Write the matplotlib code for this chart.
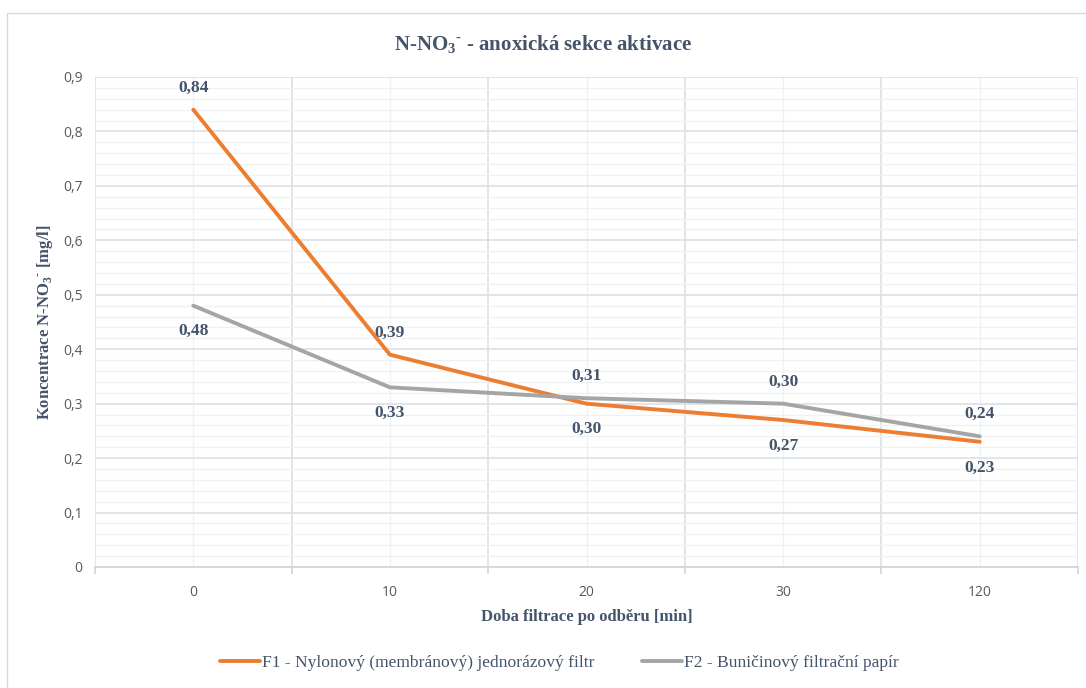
import numpy as np
import matplotlib
matplotlib.use("Agg")
import matplotlib.pyplot as plt
from matplotlib.ticker import MultipleLocator, FixedLocator, NullFormatter
from matplotlib.patches import Rectangle

# data
categories = ["0", "10", "20", "30", "120"]
f1_values = [0.84, 0.39, 0.30, 0.27, 0.23]
f2_values = [0.48, 0.33, 0.31, 0.30, 0.24]
f1_label_above = [True, True, False, False, False]
f2_label_above = [False, False, True, True, True]
f1_name = "F1 - Nylonový (membránový) jednorázový filtr"
f2_name = "F2 - Buničinový filtrační papír"

plt.rcParams["mathtext.fontset"] = "custom"
plt.rcParams["mathtext.rm"] = "Liberation Serif"
plt.rcParams["mathtext.bf"] = "Liberation Serif:bold"

serif = "Liberation Serif"
text_col = "#44546A"
tick_col = "#595959"
orange = "#ED7D31"
gray = "#A5A5A5"
no3 = r"N-NO$_{\mathbf{3}}{}^{\mathbf{\text{-}}}$"

fig = plt.figure(figsize=(10.86, 6.88), dpi=100)
fig.patches.append(Rectangle((7 / 1086, -0.01), 1.02, 1 - 13 / 688 + 0.01,
                             transform=fig.transFigure, fill=False,
                             edgecolor="#D9D9D9", linewidth=1))
ax = fig.add_axes([95 / 1086, 1 - 567 / 688, (1078 - 95) / 1086, (567 - 77) / 688])

x = np.arange(len(categories))

# grid: major lines between categories, minor lines at category centres
ax.set_xlim(-0.5, len(categories) - 0.5)
ax.set_ylim(0, 0.9)
ax.yaxis.set_major_locator(MultipleLocator(0.1))
ax.yaxis.set_minor_locator(MultipleLocator(0.02))
ax.xaxis.set_major_locator(FixedLocator(np.arange(-0.5, len(categories))))
ax.xaxis.set_minor_locator(FixedLocator(x))
ax.xaxis.set_major_formatter(NullFormatter())
ax.grid(which="major", color="#DCE0E6", linewidth=1.2)
ax.grid(which="minor", color="#EFF1F4", linewidth=1.0)
ax.set_axisbelow(True)
for s in ["top", "right", "left"]:
    ax.spines[s].set_visible(False)
ax.spines["bottom"].set_color("#D0D4DA")
ax.spines["bottom"].set_linewidth(1.2)
ax.tick_params(axis="x", which="major", length=5, color="#D0D4DA", width=1.2)
ax.tick_params(axis="x", which="minor", length=0, pad=13)
ax.tick_params(axis="y", which="both", length=0, pad=9)
ax.set_xticks(x, categories, minor=True)
ax.set_yticklabels([f"{v:.1f}".replace(".", ",") if v > 0 else "0"
                    for v in ax.get_yticks()])
for lab in ax.get_xticklabels(minor=True) + ax.get_yticklabels():
    lab.set_fontfamily("Open Sans")
    lab.set_fontsize(10)
    lab.set_color(tick_col)

# lines
ax.plot(x, f1_values, color=orange, linewidth=2.8, label=f1_name, solid_capstyle="round")
ax.plot(x, f2_values, color=gray, linewidth=2.8, label=f2_name, solid_capstyle="round")

# data labels
for vals, above in [(f1_values, f1_label_above), (f2_values, f2_label_above)]:
    for xi, v, up in zip(x, vals, above):
        ax.annotate(f"{v:.2f}".replace(".", ","), (xi, v),
                    xytext=(0, 16 if up else -18.5), textcoords="offset points",
                    ha="center", va="center", fontfamily=serif,
                    fontweight="bold", fontsize=12.5, color=text_col)

fig.text(0.5, 1 - 45 / 688, no3 + " - anoxická sekce aktivace",
         ha="center", va="center", fontfamily=serif, fontweight="bold",
         fontsize=15, color=text_col)
ax.set_ylabel("Koncentrace " + no3 + " [mg/l]",
              fontfamily=serif, fontweight="bold", fontsize=12, color=text_col)
ax.yaxis.set_label_coords((45 - 95) / 983, 0.5)
ax.yaxis.label.set_va("center")
ax.set_xlabel("Doba filtrace po odběru [min]",
              fontfamily=serif, fontweight="bold", fontsize=12, color=text_col)
ax.xaxis.set_label_coords(0.5, (567 - 617) / 490)
ax.xaxis.label.set_va("center")

leg = fig.legend(loc="center", bbox_to_anchor=(559 / 1086, 1 - 663 / 688), ncol=2,
                 frameon=False, handlelength=2.3, columnspacing=2.7, handletextpad=0.1,
                 prop={"family": serif, "size": 12.6})
for t in leg.get_texts():
    t.set_color(text_col)

fig.savefig("out.png", dpi=100)
